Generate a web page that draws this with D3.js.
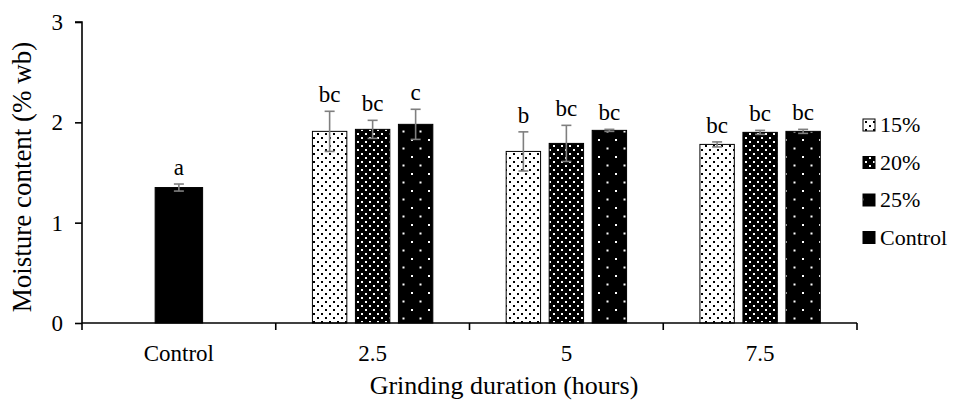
<!DOCTYPE html>
<html><head><meta charset="utf-8">
<script src="https://cdn.jsdelivr.net/npm/d3@7"></script>
<style>body{margin:0;background:#fff}svg{display:block}svg text{font-family:"Liberation Serif","Times New Roman",serif !important;fill:#000}</style>
</head><body><svg id="c" width="953" height="401"></svg>
<script>
const categories = ["Control", "2.5", "5", "7.5"];
const seriesNames = ["15%", "20%", "25%"];
const controlValue = 1.35, controlErr = 0.035, controlLetter = "a";
const values15 = [1.91, 1.71, 1.78];
const values20 = [1.93, 1.79, 1.90];
const values25 = [1.98, 1.92, 1.91];
const err15 = [0.20, 0.195, 0.025];
const err20 = [0.09, 0.18, 0.02];
const err25 = [0.15, 0.01, 0.02];
const letters15 = ["bc", "b", "bc"];
const letters20 = ["bc", "bc", "bc"];
const letters25 = ["c", "bc", "bc"];
const legendLabels = ["15%", "20%", "25%", "Control"];
const yTicks = [0, 1, 2, 3];

const FONT = "'Liberation Serif', 'Times New Roman', serif";
const svg = d3.select("#c");
const defs = svg.append("defs");
function pat(id, size, bg, fg, pts, r) {
  const p = defs.append("pattern").attr("id", id).attr("patternUnits", "userSpaceOnUse")
    .attr("width", size).attr("height", size);
  p.append("rect").attr("width", size).attr("height", size).attr("fill", bg);
  pts.forEach(([x, y]) => p.append("rect").attr("x", x).attr("y", y).attr("width", r).attr("height", r).attr("fill", fg));
}
pat("p15", 8, "#fff", "#000", [[1, 1], [5, 5]], 2);
pat("p20", 8, "#000", "#fff", [[1, 1], [5, 5]], 2);
pat("p25", 17, "#000", "#fff", [[3, 3], [11.5, 11.5]], 2);
const fills = ["url(#p15)", "url(#p20)", "url(#p25)"];

const x0 = 82, x1 = 857, yTop = 22, yBot = 323;
const x = d3.scaleBand().domain(categories).range([x0, x1]).padding(0);
const y = d3.scaleLinear().domain([0, 3]).range([yBot, yTop]);
const xs = d3.scaleBand().domain(seriesNames).range([-64.5, 64.5]).paddingInner(0.2).paddingOuter(0.1);

// y axis
const ya = svg.append("g").attr("transform", `translate(${x0},0)`)
  .call(d3.axisLeft(y).tickValues(yTicks).tickFormat(d3.format("d")).tickSize(7).tickPadding(12));
ya.attr("font-family", FONT);
ya.select(".domain").attr("stroke", "#000").attr("stroke-width", 1.6).attr("d", `M-7,${yTop}H0V${yBot}`);
ya.selectAll(".tick line").attr("stroke", "#000").attr("stroke-width", 1.6);
ya.selectAll(".tick text").style("font-family", FONT).style("font-size", "23px").attr("fill", "#000");

// bars
const groups = categories.slice(1);
const rows = [];
groups.forEach((g, i) => {
  [[values15, err15, letters15], [values20, err20, letters20], [values25, err25, letters25]].forEach(([v, e, l], s) => {
    rows.push({ cat: g, s: seriesNames[s], fill: fills[s], v: v[i], e: e[i], l: l[i],
      cx: x(g) + x.bandwidth() / 2 + xs(seriesNames[s]) + xs.bandwidth() / 2, w: xs.bandwidth() });
  });
});
const cw = x.bandwidth() * 0.245;
rows.unshift({ cat: "Control", s: "Control", fill: "#000", v: controlValue, e: controlErr, l: controlLetter,
  cx: x("Control") + x.bandwidth() / 2, w: cw });

svg.append("g").selectAll("rect").data(rows).join("rect")
  .attr("x", d => d.cx - d.w / 2).attr("y", d => y(d.v)).attr("width", d => d.w)
  .attr("height", d => y(0) - y(d.v)).attr("fill", d => d.fill)
  .attr("stroke", "#000").attr("stroke-width", 1);

// error bars
const eg = svg.append("g").attr("stroke", "#7f7f7f").attr("stroke-width", 1.6).attr("fill", "none");
rows.forEach(d => {
  eg.append("line").attr("x1", d.cx).attr("x2", d.cx).attr("y1", y(d.v + d.e)).attr("y2", y(d.v - d.e));
  eg.append("line").attr("x1", d.cx - 5).attr("x2", d.cx + 5).attr("y1", y(d.v + d.e)).attr("y2", y(d.v + d.e));
  eg.append("line").attr("x1", d.cx - 5).attr("x2", d.cx + 5).attr("y1", y(d.v - d.e)).attr("y2", y(d.v - d.e));
});
svg.append("g").selectAll("text").data(rows).join("text")
  .attr("x", d => d.cx).attr("y", d => y(d.v + d.e) - 9).attr("text-anchor", "middle")
  .style("font-family", FONT).style("font-size", "23px").text(d => d.l);

// x axis
const xa = svg.append("g").attr("transform", `translate(0,${yBot})`)
  .call(d3.axisBottom(x).tickSize(0).tickPadding(22));
xa.attr("font-family", FONT);
xa.select(".domain").remove();
xa.selectAll(".tick text").style("font-family", FONT).style("font-size", "23px").attr("fill", "#000");
svg.append("line").attr("x1", x0).attr("x2", x1).attr("y1", yBot).attr("y2", yBot).attr("stroke", "#000").attr("stroke-width", 1.6);
const bounds = categories.map(c => x(c)).concat([x1]);
svg.append("g").selectAll("line").data(bounds).join("line")
  .attr("x1", d => d).attr("x2", d => d).attr("y1", yBot).attr("y2", yBot + 7)
  .attr("stroke", "#000").attr("stroke-width", 1.6);

// titles
svg.append("text").attr("x", 504).attr("y", 394).attr("text-anchor", "middle")
  .style("font-family", FONT).style("font-size", "26px").text("Grinding duration (hours)");
svg.append("text").attr("transform", `translate(31,177) rotate(-90)`).attr("text-anchor", "middle")
  .style("font-family", FONT).style("font-size", "27px").text("Moisture content (% wb)");

// legend
const lfills = ["url(#p15)", "url(#p20)", "url(#p25)", "#000"];
const lg = svg.append("g");
legendLabels.forEach((t, i) => {
  const cy = 125 + i * 37.5;
  lg.append("rect").attr("x", 863).attr("y", cy - 6).attr("width", 12).attr("height", 12)
    .attr("fill", lfills[i]).attr("stroke", "#000").attr("stroke-width", 1);
  lg.append("text").attr("x", 880).attr("y", cy + 7).style("font-family", FONT).style("font-size", "22px").text(t);
});
</script></body></html>
